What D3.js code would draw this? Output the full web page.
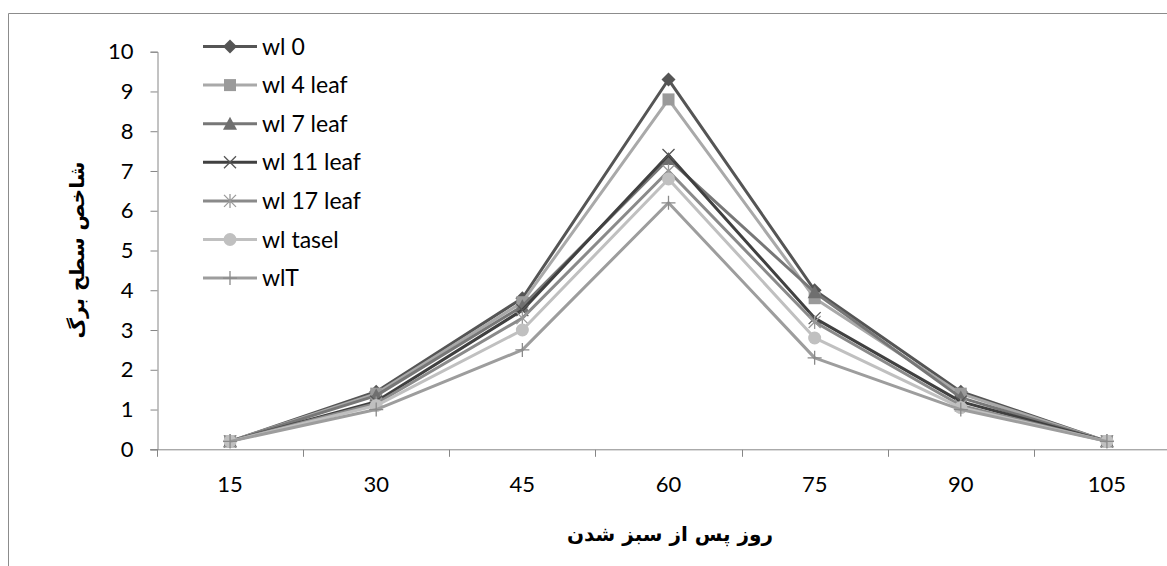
<!DOCTYPE html>
<html>
<head>
<meta charset="utf-8">
<script src="https://cdn.jsdelivr.net/npm/d3@7"></script>
<style>
  html, body { margin: 0; padding: 0; background: #fff; }
  svg { display: block; }
  .tick text { font-family: Lato, "Open Sans", sans-serif; font-size: 22px; fill: #000; }
</style>
</head>
<body>
<svg id="chart" width="1167" height="566"></svg>
<script>
// Days after emergence (category axis)
const days = ["15", "30", "45", "60", "75", "90", "105"];
const yTicks = [0, 1, 2, 3, 4, 5, 6, 7, 8, 9, 10];

// Leaf area index per treatment
const wl0      = [0.2, 1.45, 3.8, 9.3, 4.0, 1.45, 0.2];
const wl4leaf  = [0.2, 1.4, 3.7, 8.8, 3.8, 1.4, 0.2];
const wl7leaf  = [0.2, 1.35, 3.6, 7.3, 3.95, 1.3, 0.2];
const wl11leaf = [0.2, 1.2, 3.5, 7.4, 3.3, 1.2, 0.2];
const wl17leaf = [0.2, 1.15, 3.3, 7.0, 3.2, 1.1, 0.2];
const wlTasel  = [0.2, 1.1, 3.0, 6.8, 2.8, 1.05, 0.2];
const wlT      = [0.2, 1.0, 2.5, 6.2, 2.3, 1.0, 0.2];

const seriesNames = ["wl 0", "wl 4 leaf", "wl 7 leaf", "wl 11 leaf", "wl 17 leaf", "wl tasel", "wlT"];
const seriesValues = [wl0, wl4leaf, wl7leaf, wl11leaf, wl17leaf, wlTasel, wlT];
const lineColors   = ["#555555", "#a9a9a9", "#777777", "#404040", "#8a8a8a", "#c0c0c0", "#9d9d9d"];
const markerColors = ["#555555", "#9a9a9a", "#6f6f6f", "#555555", "#9a9a9a", "#c0c0c0", "#8a8a8a"];
const markerKinds  = ["diamond", "square", "triangle", "x", "asterisk", "circle", "plus"];

const svg = d3.select("#chart");

// chart area frame
svg.append("path")
  .attr("d", "M8.5,566 V13.5 H1167")
  .attr("fill", "none").attr("stroke", "#8c8c8c").attr("stroke-width", 1);

const plot = { left: 157, top: 51.7, bottom: 449.3, right: 1180 };

const x = d3.scaleBand().domain(days).range([plot.left, plot.right]).paddingInner(0).paddingOuter(0);
const y = d3.scaleLinear().domain([0, 10]).range([plot.bottom, plot.top]);

// Y axis
const yAxis = svg.append("g")
  .attr("transform", `translate(${plot.left + 0.5},0)`)
  .call(d3.axisLeft(y).tickValues(yTicks).tickSize(7).tickPadding(17).tickFormat(d3.format("d")));
yAxis.select(".domain").attr("stroke", "#868686");
yAxis.selectAll(".tick line").attr("stroke", "#868686");

// X axis (category boundaries carry tick marks)
const xg = svg.append("g").attr("transform", `translate(0,${plot.bottom + 0.5})`);
xg.append("line")
  .attr("x1", plot.left - 7).attr("x2", plot.right)
  .attr("stroke", "#868686");
const bounds = days.map(d => x(d)).concat([x(days[days.length - 1]) + x.bandwidth()]);
xg.selectAll("line.tk").data(bounds).join("line").attr("class", "tk")
  .attr("x1", d => Math.round(d) + 0.5).attr("x2", d => Math.round(d) + 0.5)
  .attr("y1", 0).attr("y2", 7).attr("stroke", "#868686");
xg.selectAll("text").data(days).join("text")
  .attr("x", d => x(d) + x.bandwidth() / 2)
  .attr("y", 42)
  .attr("text-anchor", "middle")
  .style("font-family", "Lato, 'Open Sans', sans-serif")
  .style("font-size", "22px")
  .text(d => d);

// Axis titles
svg.append("text")
  .attr("x", 670).attr("y", 541)
  .attr("text-anchor", "middle")
  .style("font-family", "'DejaVu Sans', sans-serif")
  .style("font-weight", "bold")
  .style("font-size", "20px")
  .attr("direction", "rtl")
  .text("روز پس از سبز شدن");

svg.append("text")
  .attr("transform", "translate(84,250) rotate(-90)")
  .attr("text-anchor", "middle")
  .style("font-family", "'DejaVu Sans', sans-serif")
  .style("font-weight", "bold")
  .style("font-size", "20px")
  .attr("direction", "rtl")
  .text("شاخص سطح برگ");

// marker drawing
function drawMarker(g, kind, cx, cy, color) {
  const s = 6;
  if (kind === "diamond") {
    g.append("path").attr("d", `M${cx},${cy - s - 1} L${cx + s + 1},${cy} L${cx},${cy + s + 1} L${cx - s - 1},${cy} Z`)
      .attr("fill", color);
  } else if (kind === "square") {
    g.append("rect").attr("x", cx - s).attr("y", cy - s).attr("width", 2 * s).attr("height", 2 * s).attr("fill", color);
  } else if (kind === "triangle") {
    g.append("path").attr("d", `M${cx},${cy - s - 1} L${cx + s + 1},${cy + s} L${cx - s - 1},${cy + s} Z`).attr("fill", color);
  } else if (kind === "x") {
    g.append("path").attr("d", `M${cx - s},${cy - s} L${cx + s},${cy + s} M${cx - s},${cy + s} L${cx + s},${cy - s}`)
      .attr("stroke", color).attr("stroke-width", 1.3).attr("fill", "none");
  } else if (kind === "asterisk") {
    g.append("path").attr("d", `M${cx - s},${cy - s} L${cx + s},${cy + s} M${cx - s},${cy + s} L${cx + s},${cy - s} M${cx},${cy - s - 1} L${cx},${cy + s + 1}`)
      .attr("stroke", color).attr("stroke-width", 1.3).attr("fill", "none");
  } else if (kind === "circle") {
    g.append("circle").attr("cx", cx).attr("cy", cy).attr("r", s + 0.5).attr("fill", color);
  } else if (kind === "plus") {
    g.append("path").attr("d", `M${cx - s - 1},${cy} L${cx + s + 1},${cy} M${cx},${cy - s - 1} L${cx},${cy + s + 1}`)
      .attr("stroke", color).attr("stroke-width", 1.3).attr("fill", "none");
  }
}

const line = d3.line()
  .x((d, i) => x(days[i]) + x.bandwidth() / 2)
  .y(d => y(d));

// series: line then markers, in order
seriesValues.forEach((vals, k) => {
  const g = svg.append("g");
  g.append("path").datum(vals)
    .attr("d", line)
    .attr("fill", "none")
    .attr("stroke", lineColors[k])
    .attr("stroke-width", 3)
    .attr("stroke-linejoin", "round");
  vals.forEach((v, i) => {
    drawMarker(g, markerKinds[k], x(days[i]) + x.bandwidth() / 2, y(v), markerColors[k]);
  });
});

// Legend
const legend = svg.append("g");
seriesNames.forEach((name, k) => {
  const ly = 46.5 + k * 38.6;
  const g = legend.append("g");
  g.append("line").attr("x1", 203).attr("x2", 257).attr("y1", ly).attr("y2", ly)
    .attr("stroke", lineColors[k]).attr("stroke-width", 3);
  drawMarker(g, markerKinds[k], 230, ly, markerColors[k]);
  g.append("text").attr("x", 262).attr("y", ly + 8)
    .style("font-family", "Lato, 'Open Sans', sans-serif")
    .style("font-size", "23px")
    .text(name);
});
</script>
</body>
</html>
